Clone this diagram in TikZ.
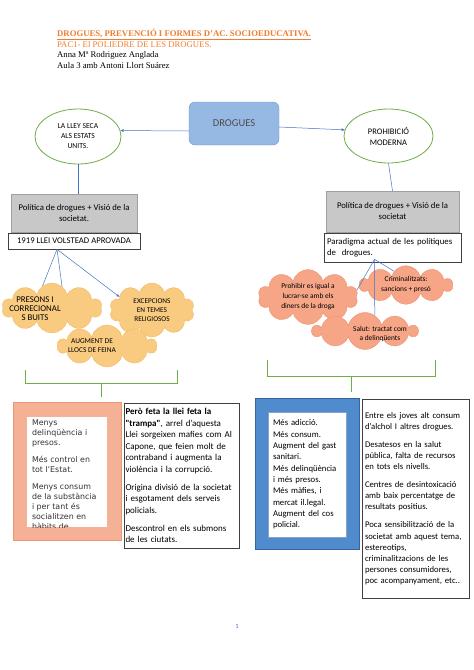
\documentclass[tikz,border=0pt]{standalone}
\usepackage{fontspec}
\setmainfont{Liberation Serif}
\newfontfamily\carlito{Carlito}
\newfontfamily\dvsans{DejaVu Sans}
\usetikzlibrary{shapes.geometric,shapes.symbols,arrows.meta}
\definecolor{titol}{RGB}{237,125,49}
\definecolor{fletxa}{RGB}{68,114,196}
\definecolor{verd}{RGB}{112,173,71}
\definecolor{blaucap}{RGB}{150,185,228}
\definecolor{blaucapv}{RGB}{110,150,210}
\definecolor{groc}{RGB}{249,203,128}
\definecolor{grocv}{RGB}{245,185,100}
\definecolor{salmo}{RGB}{246,165,135}
\definecolor{salmov}{RGB}{238,145,115}
\definecolor{rosa}{RGB}{244,177,150}
\definecolor{rosav}{RGB}{236,150,120}
\definecolor{blau}{RGB}{80,140,205}
\definecolor{blauv}{RGB}{55,100,160}
\definecolor{gris}{RGB}{200,200,200}
\tikzset{
  oval/.style={ellipse,draw=verd,thick,fill=white,align=center,inner sep=0pt},
  grisbox/.style={draw=gris!80!black,fill=gris,align=center,inner sep=1pt,font=\carlito\fontsize{8.7}{11}\selectfont},
  marc/.style={draw=black!75,fill=white,line width=0.6pt},
  nuvolL/.style={cloud,cloud puffs=10,cloud ignores aspect,draw=grocv,fill=groc,align=center,inner sep=0pt},
  nuvolR/.style={cloud,cloud puffs=10,cloud ignores aspect,draw=salmov,fill=salmo,align=center,inner sep=0pt,font=\carlito\fontsize{7.4}{10}\selectfont},
  fil/.style={draw=fletxa,line width=0.5pt},
  punta/.style={-{Stealth[length=3.5pt,width=3pt]}},
  clau/.style={draw=verd,line width=1pt},
  txt/.style={anchor=north west,inner sep=0pt,align=left},
}
\begin{document}
\begin{tikzpicture}[x=1pt,y=-1pt]
\useasboundingbox (0,0) rectangle (474,670);
% capcalera
\node[txt,font=\fontsize{8.7}{10.5}\selectfont] (cap) at (57,29) {\textcolor{titol}{\textbf{\underline{DROGUES, PREVENCIÓ I FORMES D'AC. SOCIOEDUCATIVA.}}}\\
\textcolor{titol}{PAC1- El POLIEDRE DE LES DROGUES.}\\
Anna Mª Rodriguez Anglada\\
Aula 3 amb Antoni Llort Suárez};
% centre
\node[draw=blaucapv,fill=blaucap,rounded corners=6pt,minimum width=90pt,minimum height=43pt,font=\carlito\fontsize{10.5}{12}\selectfont,text=black!70] (drogues) at (234,123.5) {DROGUES};
\node[oval,minimum width=86pt,minimum height=55pt,font=\carlito\fontsize{7.6}{10}\selectfont] (lleiseca) at (78,136.5) {LA LLEY SECA\\ALS ESTATS\\UNITS.};
\node[oval,minimum width=89pt,minimum height=54pt,font=\carlito\fontsize{8.5}{11}\selectfont] (prohib) at (388.5,136) {PROHIBICIÓ\\MODERNA};
\draw[fil,punta] ([yshift=-7.5pt]drogues.west) -- (lleiseca.8);
\draw[fil,punta] ([yshift=-3.5pt]drogues.east) -- (prohib.172);
% columna esquerra
\node[grisbox,minimum width=126pt,minimum height=38pt] (politL) at (74,213) {Política de drogues + Visió de la\\societat.};
\node[marc,font=\carlito\fontsize{8.7}{10}\selectfont,minimum width=132pt,minimum height=16pt,inner sep=0pt] (llei) at (74,241) {1919 LLEI VOLSTEAD APROVADA};
\draw[fil] (lleiseca.south) -- (lleiseca.south |- politL.north);
\node[nuvolL,minimum width=100pt,minimum height=50pt] (presons) at (52,308) {};
\node[font=\carlito\fontsize{8.8}{9.3}\selectfont,align=center,inner sep=0pt] (presonst) at (35,308.5) {PRESONS I\\CORRECIONAL\\S BUITS};
\node[nuvolL,minimum width=85pt,minimum height=54pt,font=\carlito\fontsize{7.3}{9}\selectfont] (excep) at (152,310) {EXCEPCIONS\\EN TEMES\\RELIGIOSOS};
\node[nuvolL,minimum width=99pt,minimum height=42pt] (augment) at (107,346) {};
\node[font=\carlito\fontsize{7.4}{9.3}\selectfont,align=center,inner sep=0pt] (augmentt) at (92,345.5) {AUGMENT DE\\LLOCS DE FEINA};
\coordinate (fanL) at ([xshift=-17pt]llei.south);
\draw[fil] (fanL) -- (presons.113);
\draw[fil] (fanL) -- (presons.65);
\draw[fil,punta] (fanL) -- (excep.158);
\draw[clau] (25,370) -- (25,383) -- (177,383) -- (177,370);
\draw[clau] (101,383) -- (101,397);
% columna dreta
\node[grisbox,minimum width=133pt,minimum height=41pt] (politR) at (392.5,211.5) {Política de drogues + Visió de la\\societat};
\node[marc,font=\carlito\fontsize{8.8}{11}\selectfont,text width=131pt,inner xsep=3pt,minimum height=29pt,align=left] (paradigma) at (392.5,247.5) {Paradigma actual de les polítiques\\de\ \ drogues.};
\draw[fil] (prohib.south) -- (politR.north);
\node[nuvolR,minimum width=100pt,minimum height=55pt] (lucrar) at (308,297) {Prohibir es igual a\\lucrar-se amb els\\diners de la droga};
\node[nuvolR,minimum width=93pt,minimum height=35pt] (crimin) at (406,285) {Criminalitzats:\\sancions + presó};
\node[nuvolR,minimum width=105pt,minimum height=37pt] (salut) at (365,331) {};
\node[font=\carlito\fontsize{7.4}{9.5}\selectfont,align=center,inner sep=0pt] (salutt) at (380,334) {Salut: tractat com\\a delinqüents};
\coordinate (fanR) at ([xshift=-18pt,yshift=3pt]paradigma.south);
\draw[fil] (fanR) -- (lucrar.8);
\draw[fil] (fanR) -- (salut.58);
\draw[fil] (fanR) -- (crimin.131);
\draw[clau] (267,360) -- (267,376) -- (435,376) -- (435,360);
\draw[clau] (351,376) -- (351,392);
% caixes de baix
\node[draw=rosav,fill=rosa,minimum width=108pt,minimum height=138pt,inner sep=0pt] (rosabox) at (67,471) {};
\node[fill=white,minimum width=80pt,minimum height=110pt,inner sep=0pt] (rosain) at (67,472) {};
\begin{scope}
\clip (rosain.north west) rectangle (rosain.south east);
\node[txt,font=\dvsans\fontsize{7.9}{10}\selectfont,text=black!80] (menys) at ([xshift=5pt,yshift=-3pt]rosain.north west) {Menys\\delinqüència i\\presos.\\[7pt]Més control en\\tot l’Estat.\\[7pt]Menys consum\\de la substància\\i per tant és\\socialitzen en\\hàbits de};
\end{scope}
\node[marc,text width=112pt,inner xsep=1.5pt,minimum height=145pt,align=left,font=\carlito\fontsize{9}{11.5}\selectfont] (trampa) at (181.5,475.5) {\textbf{Però feta la llei feta la}\\
\textbf{"trampa"}, arrel d’aquesta\\
Llei sorgeixen mafies com Al\\
Capone, que feien molt de\\
contraband i augmenta la\\
violència i la corrupció.\\[6.5pt]
Origina divisió de la societat\\
i esgotament dels serveis\\
policials.\\[6.5pt]
Descontrol en els submons\\
de les ciutats.};
\node[draw=blauv,fill=blau,minimum width=104pt,minimum height=151pt,inner sep=0pt] (blaubox) at (307,473.5) {};
\node[fill=white,draw=blauv!60,text width=68pt,inner xsep=5pt,minimum height=125pt,align=left,font=\carlito\fontsize{8.7}{11.3}\selectfont] (mes) at (307,474.5) {Més adicció.\\
Més consum.\\
Augment del gast\\
sanitari.\\
Més delinqüència\\
i més presos.\\
Més màfies, i\\
mercat il.legal.\\
Augment del cos\\
policial.};
\node[marc,text width=101pt,inner xsep=3pt,minimum height=199pt,align=left,font=\carlito\fontsize{8.7}{11.1}\selectfont] (joves) at (415.5,498.5) {Entre els joves alt consum\\
d’alchol I altres drogues.\\[7pt]
Desatesos en la salut\\
pública, falta de recursos\\
en tots els nivells.\\[7pt]
Centres de desintoxicació\\
amb baix percentatge de\\
resultats positius.\\[7pt]
Poca sensibilització de la\\
societat amb aquest tema,\\
estereotips,\\
criminalitzacions de les\\
persones consumidores,\\
poc acompanyament, etc..};
\node[font=\carlito\fontsize{6.5}{7}\selectfont,text=fletxa] (pagina) at (237,626) {1};
\end{tikzpicture}
\end{document}
